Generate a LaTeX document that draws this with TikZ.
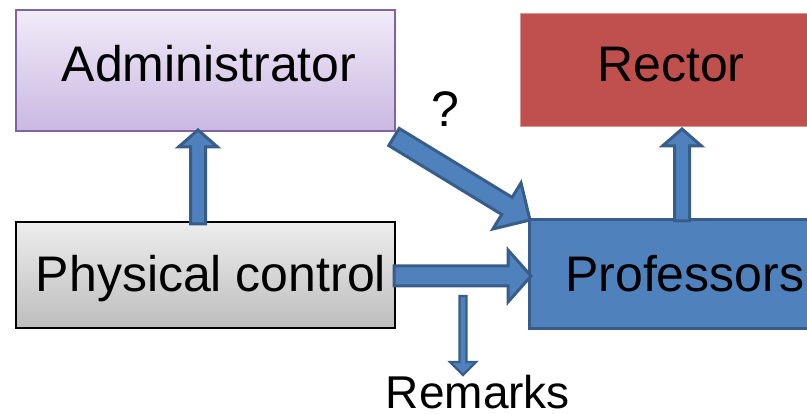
\documentclass[tikz,border=0pt]{standalone}
\usepackage{fontspec}
\setmainfont{Liberation Sans}
\usetikzlibrary{calc}
\definecolor{bfill}{HTML}{4F81BD}
\definecolor{bdark}{HTML}{385D8A}
\definecolor{rfill}{HTML}{C0504D}
\definecolor{rline}{HTML}{D99694}
\definecolor{aline}{HTML}{8064A2}
\definecolor{atop}{HTML}{F1EBF8}
\definecolor{abot}{HTML}{CAB8E2}
\definecolor{gtop}{HTML}{EDEDED}
\definecolor{gbot}{HTML}{BDBDBD}
\newcommand\blockarrow[6]{%
  \draw[#6] ($(#1)!#3!90:(#2)$)
   -- ($(#2)!#5!(#1)!#3!90:(#2)$)
   -- ($(#2)!#5!(#1)!#4!90:(#2)$)
   -- (#2)
   -- ($(#2)!#5!(#1)!#4!-90:(#2)$)
   -- ($(#2)!#5!(#1)!#3!-90:(#2)$)
   -- ($(#1)!#3!-90:(#2)$) -- cycle;}
\tikzset{
  box/.style={rectangle, inner sep=0pt, outer sep=0pt, anchor=north west},
  lbl/.style={font=\fontsize{50pt}{60pt}\selectfont, inner sep=0pt, anchor=base},
  barrow/.style={fill=bfill, draw=bdark, line width=3pt, line join=miter, miter limit=10},
  sarrow/.style={fill=bfill, draw=bdark, line width=2.2pt, line join=miter, miter limit=10}
}
\begin{document}
\begin{tikzpicture}[x=1pt,y=-1pt]
\useasboundingbox (0,0) rectangle (807,414);
\clip (0,0) rectangle (807,414);
% boxes
\node[box, draw=aline, line width=1.5pt, top color=atop, bottom color=abot,
      minimum width=379pt, minimum height=121pt] (admin) at (16,10) {};
\node[box, draw=rline, line width=1pt, fill=rfill,
      minimum width=320pt, minimum height=113pt] (rector) at (520,14) {};
\node[box, draw=black, line width=1.8pt, top color=gtop, bottom color=gbot,
      minimum width=379pt, minimum height=106pt] (phys) at (16,222) {};
\node[box, draw=bdark, line width=3pt, fill=bfill,
      minimum width=320pt, minimum height=109pt] (prof) at (529,220) {};
% texts
\node[lbl] (admint) at (209,82) {Administrator};
\node[lbl] (rectort) at (671,82) {Rector};
\node[lbl] (physt) at (211,292) {Physical control};
\node[lbl, anchor=base west] (proft) at (565,292) {Professors};
\node[lbl] (q) at (445,127) {?};
\node[lbl, font=\fontsize{46pt}{55pt}\selectfont, text depth=0pt] (remarks) at (478,409) {Remarks};
% arrow end points
\coordinate (a1s) at (198,224);  \coordinate (a1e) at (198,130);
\coordinate (a2s) at (682,221);  \coordinate (a2e) at (682,129);
\coordinate (a3s) at (394,276);  \coordinate (a3e) at (531,276);
\coordinate (a4s) at (394,137);  \coordinate (a4e) at (530,220);
\coordinate (a5s) at (463,296);  \coordinate (a5e) at (463,375);
% block arrows
\blockarrow{a1s}{a1e}{7.5pt}{19.5pt}{17pt}{barrow}
\blockarrow{a2s}{a2e}{7.5pt}{19.5pt}{17pt}{barrow}
\blockarrow{a3s}{a3e}{10pt}{26pt}{23pt}{barrow}
\blockarrow{a4s}{a4e}{10pt}{27pt}{27pt}{barrow}
\blockarrow{a5s}{a5e}{3.5pt}{13pt}{13pt}{sarrow}
\end{tikzpicture}
\end{document}
